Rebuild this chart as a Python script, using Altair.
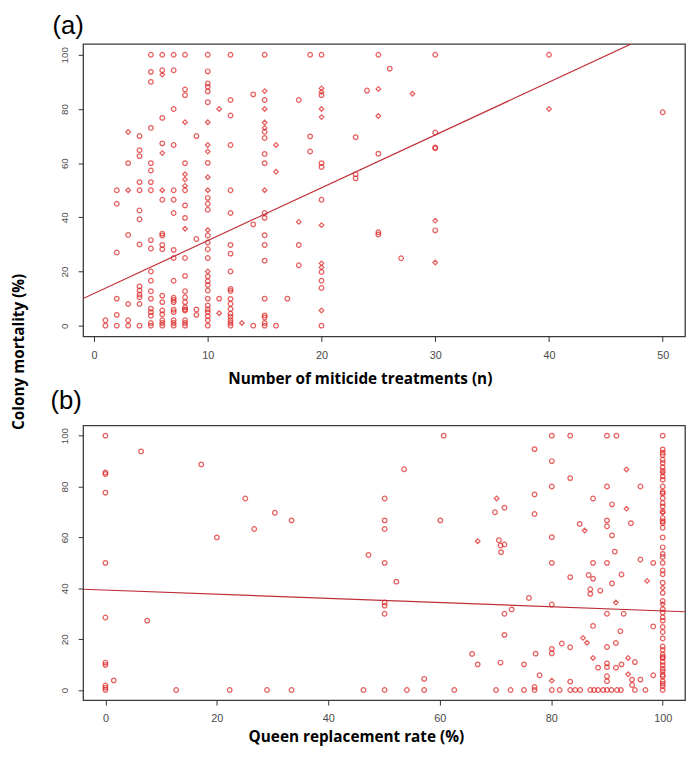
import altair as alt
import pandas as pd

POINT_RED = "#dc1e1e"
LINE_RED = "#bf2f38"

# ---------------- Panel (a): colony mortality (%) vs number of miticide treatments
mort_n1 = [2, 0]
mort_n2 = [50, 45, 27, 10, 4, 0]
mort_n3 = [60, 33.5, 8, 2, 0]
mort_n4 = [70, 64.8, 62.6, 53, 50, 42.5, 39.3, 30, 14.5, 13, 11.5, 10.5, 8, 0]
mort_n5 = [100, 93.7, 90, 73, 60, 57.3, 53, 50, 31.6, 28.5, 20, 16.6, 12.7, 10, 6.3, 5, 3.7, 1, 0]
mort_n6 = [100, 94.3, 76.7, 67.3, 46.5, 34, 33.3, 29.8, 28.2, 11.1, 8.7, 5.6, 4.2, 2, 1, 0]
mort_n7 = [100, 94.3, 80, 66.7, 50, 46.5, 41.6, 28, 25, 16.6, 10.3, 9.5, 8.7, 5.9, 5, 2, 1, 0]
mort_n8 = [100, 87.2, 85.1, 60, 50, 44.4, 39.8, 25, 18.4, 12.7, 10.5, 8.7, 6.8, 6, 5.6, 2, 1, 0]
mort_n9 = [70, 32, 6, 4]
mort_n10 = [100, 93.9, 89.4, 88.2, 86.5, 82.5, 60.1, 47.2, 45, 42.8, 33.3, 30.7, 28.2, 25,
            18.2, 16.4, 15, 13, 10, 7.5, 6, 5, 3.5, 2, 0]
mort_n11 = [10]
mort_n12 = [100, 83.3, 77.6, 66.7, 50, 41.6, 29.8, 26.6, 20, 13.6, 12.8, 9.9, 8.1, 6.2, 4.4, 3.3, 2, 1, 0]
mort_n14 = [85.4, 37.4, 0]
mort_n15 = [100, 83.3, 71.6, 69.3, 63.4, 60, 41.6, 39.8, 33.4, 29.8, 24, 10, 3.8, 3, 1, 0]
mort_n16 = [0]
mort_n17 = [10]
mort_n18 = [83.3, 29.8, 22.3]
mort_n19 = [100, 69.9, 64.3]
mort_n20 = [100, 85.1, 60, 58.6, 46.5, 19.8, 16.6, 13.9, 0]
mort_n23 = [69.6, 55.9, 54.4]
mort_n24 = [86.8]
mort_n25 = [100, 63.5, 34.5, 33.7]
mort_n26 = [94.9]
mort_n27 = [24.9]
mort_n30 = [100, 71.3, 65.8, 65.5, 35.2]
mort_n40 = [100]
mort_n50 = [78.8]

# points drawn as diamonds in panel (a)
a_dia_n = [3, 3, 6, 6, 6, 8, 8, 8, 8, 8, 10, 10, 10, 10, 10, 10, 10, 11, 11, 13,
           15, 15, 15, 15, 15, 16, 16, 18, 20, 20, 20, 20, 20, 20, 20, 20, 25, 25, 28, 30, 30, 40]
a_dia_mort = [71.5, 50, 92.7, 63.7, 50, 75.1, 55.9, 54, 51.6, 35.8, 75.1, 66.7, 64.3, 54.8, 50, 35.3, 20,
              80, 4.6, 1, 86.6, 80, 75, 73, 50, 66.7, 56.8, 38.3, 87.6, 86.3, 80, 77, 37.1, 23, 21.5, 5.6,
              87.4, 77.4, 85.6, 38.8, 23.3, 80]

A_INTERCEPT = 11.9
A_SLOPE = 1.95
A_XDOMAIN = [-0.96, 51.96]
A_XTICKS = [0, 10, 20, 30, 40, 50]

# ---------------- Panel (b): colony mortality (%) vs queen replacement rate (%)
b_zero_mort = [100, 85.5, 84.9, 77.6, 50, 28.5, 10.8, 9.9, 1.8, 0.9, 0]       # rate = 0
b_full_mort = [100, 94.6, 93.3, 92.4, 90.5, 89.3, 87.5, 86.2, 84, 82.7, 80, 77.9, 77.3, 75.4,
               73.5, 72.2, 70.2, 67.6, 66.4, 65.7, 63.8, 60, 56.1, 53.5, 52.3, 50, 47, 45.5,
               42.2, 38.2, 35, 31.8, 30.5, 28.6, 27.3, 24.8, 22.8, 20.3, 17.1, 15.8, 13.9, 13,
               12.6, 11.1, 9.8, 8.4, 7.4, 6, 5.4, 3.5, 2.5, 1.5, 0]                # rate = 100
b_rate = [1.5, 6.4, 7.5, 12.7, 17.2, 20.0, 22.3, 25.1, 26.7, 29.0, 30.4, 33.4, 33.4,
          46.3, 47.2, 50.1, 50.1, 50.1, 50.1, 50.1, 50.1, 50.1, 50.1, 52.2, 53.6, 54.1, 57.2, 57.2,
          60.1, 60.7, 62.6, 65.8, 66.8, 69.9, 70.1, 70.6, 70.9, 70.9, 71.0,
          71.6, 71.6, 71.6, 71.6, 72.7, 72.9, 75.1, 75.1, 76.0,
          77.0, 77.0, 77.0, 77.0, 77.0, 77.2, 77.9,
          80.1, 80.1, 80.1, 80.1, 80.1, 80.1, 80.1, 80.1, 80.1, 81.5, 81.9,
          83.4, 83.4, 83.4, 83.4, 83.4, 83.4, 84.3, 85.1, 85.2,
          86.7, 87.0, 87.0, 87.0, 87.5, 87.5, 87.5, 87.5, 87.7, 88.4, 88.4, 88.8, 89.3,
          90.0, 90.0, 90.0, 90.0, 90.0, 90.0, 90.0, 90.0, 90.0, 90.0, 90.0, 90.0,
          90.8, 90.9, 90.9, 90.9, 91.4, 91.6, 91.6, 91.7, 91.8, 92.4, 92.5, 92.6, 92.6, 93.0,
          94.3, 94.5, 94.5, 95.0, 95.0, 96.0, 96.0, 96.0, 96.9, 98.3, 98.3, 98.3]
b_mort = [3.8, 93.8, 27.3, 0, 88.7, 60, 0, 75.3, 63.3, 0, 69.7, 66.7, 0,
          0, 53.1, 75.3, 66.7, 63.3, 50, 34.4, 33.2, 30, 0, 42.6, 86.8, 0, 4.4, 0,
          66.7, 100, 0, 14.2, 10.1, 69.9, 0, 58.9, 56.8, 10.8, 54.2,
          71.7, 57.2, 30, 21.7, 0, 31.7, 10.1, 0, 36.2,
          94.7, 76.9, 69.2, 1.2, 0, 14.3, 5.8,
          100, 90, 80, 60.1, 50, 33.6, 16.2, 14.4, 0, 0, 18.3,
          100, 83.3, 44.4, 16.8, 3.3, 0, 0, 65.3, 0,
          45.2, 39.6, 37.8, 0, 75.3, 50, 43.8, 25.2, 0, 8.8, 0, 39.1, 0,
          100, 80, 66.7, 64.4, 50, 30, 16.9, 10.5, 9, 5.4, 3.5, 0,
          0, 73, 60.8, 41.9, 54.4, 18.5, 8.8, 100, 0, 23.1, 0, 45.4, 10.1, 30,
          65.6, 4.1, 2, 11, 0, 80, 51.3, 4.1, 0, 50, 25, 5.8]
b_dia_rate = [93.5, 70.2, 93.5, 86.0, 66.8, 97.2, 91.6, 85.7, 86.4, 87.5, 93.8, 93.8, 80.1, 100, 100, 100, 100]
b_dia_mort = [86.7, 75.3, 71.3, 62.7, 58.5, 42.9, 34.4, 20.5, 18.6, 12.6, 12.6, 6.2, 3.7, 85.4, 69.7, 40.2, 33.7]

B_INTERCEPT = 39.3
B_SLOPE = -0.082
B_XDOMAIN = [-4, 104]
B_XTICKS = [0, 20, 40, 60, 80, 100]

Y_DOMAIN = [-4, 104]
Y_TICKS = [0, 20, 40, 60, 80, 100]

# ---------------- assemble tables
a_columns = [(1, mort_n1), (2, mort_n2), (3, mort_n3), (4, mort_n4), (5, mort_n5), (6, mort_n6),
             (7, mort_n7), (8, mort_n8), (9, mort_n9), (10, mort_n10), (11, mort_n11), (12, mort_n12),
             (14, mort_n14), (15, mort_n15), (16, mort_n16), (17, mort_n17), (18, mort_n18),
             (19, mort_n19), (20, mort_n20), (23, mort_n23), (24, mort_n24), (25, mort_n25),
             (26, mort_n26), (27, mort_n27), (30, mort_n30), (40, mort_n40), (50, mort_n50)]
rows_a = []
for n, vals in a_columns:
    for v in vals:
        rows_a.append({"x": n, "y": v, "s": "c"})
for n, v in zip(a_dia_n, a_dia_mort):
    rows_a.append({"x": n, "y": v, "s": "d"})
df_a = pd.DataFrame(rows_a)

rows_b = [{"x": 0, "y": v, "s": "c"} for v in b_zero_mort]
rows_b += [{"x": 100, "y": v, "s": "c"} for v in b_full_mort]
rows_b += [{"x": r, "y": v, "s": "c"} for r, v in zip(b_rate, b_mort)]
rows_b += [{"x": r, "y": v, "s": "d"} for r, v in zip(b_dia_rate, b_dia_mort)]
df_b = pd.DataFrame(rows_b)

line_a = pd.DataFrame({"x": A_XDOMAIN, "y": [A_INTERCEPT + A_SLOPE * x for x in A_XDOMAIN]})
line_b = pd.DataFrame({"x": B_XDOMAIN, "y": [B_INTERCEPT + B_SLOPE * x for x in B_XDOMAIN]})


def panel(df, line_df, x_domain, x_ticks, x_title, title_x, title_y, height, tag, tag_x, tag_y, y_axis):
    xs = alt.Scale(domain=x_domain, nice=False, zero=False)
    ys = alt.Scale(domain=Y_DOMAIN, nice=False, zero=False)
    x_axis = alt.Axis(values=x_ticks, title=x_title, titleX=title_x, titleY=title_y,
                      titleAlign="center", titleBaseline="alphabetic", labelPadding=8)
    pts = alt.Chart(df).mark_point(filled=False, size=22, strokeWidth=1.25, color=POINT_RED).encode(
        x=alt.X("x:Q", scale=xs, axis=x_axis),
        y=alt.Y("y:Q", scale=ys, axis=y_axis),
        shape=alt.Shape("s:N", scale=alt.Scale(domain=["c", "d"], range=["circle", "diamond"]), legend=None),
    )
    reg = alt.Chart(line_df).mark_line(color=LINE_RED, strokeWidth=1.2, clip=True).encode(
        x=alt.X("x:Q", scale=xs), y=alt.Y("y:Q", scale=ys))
    lab = alt.Chart(pd.DataFrame({"t": [tag]})).mark_text(
        align="left", baseline="top", fontSize=26, font="Liberation Sans", color="black"
    ).encode(text="t:N", x=alt.value(tag_x), y=alt.value(tag_y))
    return alt.layer(pts, reg, lab).properties(width=609, height=height)


y_axis_a = alt.Axis(values=Y_TICKS, title="Colony mortality (%)", titleX=-60, titleY=311,
                    titleAngle=270, titleAlign="center", titleBaseline="alphabetic",
                    labelAngle=270, labelAlign="center", labelBaseline="bottom", labelPadding=9,
                    labelFontSize=10)
y_axis_b = alt.Axis(values=Y_TICKS, title=None,
                    labelAngle=270, labelAlign="center", labelBaseline="bottom", labelPadding=9,
                    labelFontSize=10)

pa = panel(df_a, line_a, A_XDOMAIN, A_XTICKS, "Number of miticide treatments (n)", 280, 48, 296,
           "(a)", -31, -31, y_axis_a)
pb = panel(df_b, line_b, B_XDOMAIN, B_XTICKS, "Queen replacement rate (%)", 276, 42, 278,
           "(b)", -33, -38, y_axis_b)

chart = alt.vconcat(pa, pb, spacing=90, bounds="flush").properties(
    padding={"left": 3, "top": 0, "right": 0, "bottom": 0}
).configure_view(
    stroke="#3a3a3a", strokeWidth=1.3
).configure_axis(
    grid=False, domain=False, tickColor="#333333", tickSize=5, tickWidth=1,
    labelFont="Liberation Sans", labelFontSize=11, labelColor="#4a4a4a",
    titleFont="Open Sans", titleFontSize=15.5, titleFontWeight="bold", titleColor="black"
)

chart.save("out.html", embed_options={"renderer": "svg", "actions": False})
